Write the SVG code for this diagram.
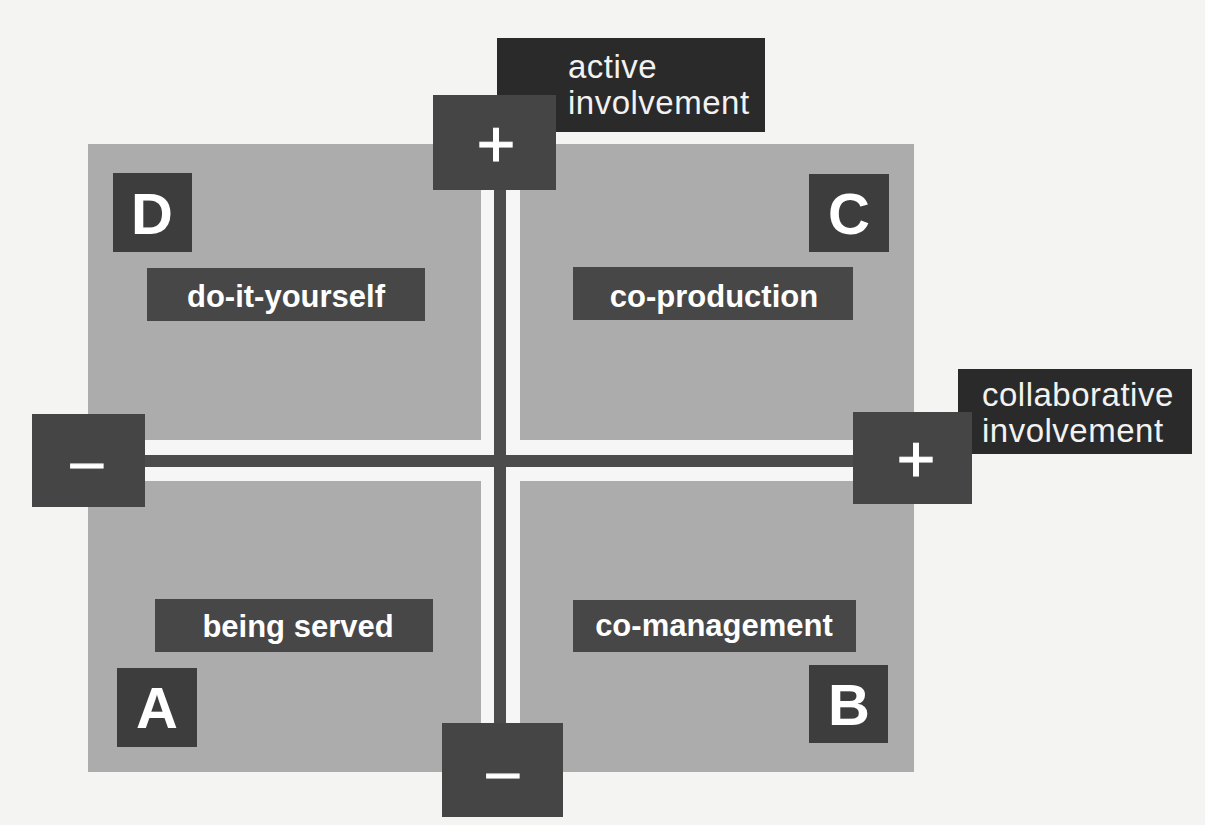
<svg xmlns="http://www.w3.org/2000/svg" width="1205" height="825" viewBox="0 0 1205 825">
<style>
.axisbox{fill:#454545}
.invbox{fill:#2a2a2a}
.letterbox{fill:#3d3d3d}
.labelbox{fill:#474747}
.sign{font-family:"Liberation Sans",Arial,sans-serif;fill:#ffffff;stroke:#ffffff;stroke-width:1.2;text-anchor:middle}
.inv{font-family:"Liberation Sans",Arial,sans-serif;font-size:33px;letter-spacing:0.5px;fill:#f2f2f2}
.letter{font-family:"Liberation Sans",Arial,sans-serif;font-weight:bold;font-size:58px;fill:#ffffff;text-anchor:middle}
.label{font-family:"Liberation Sans",Arial,sans-serif;font-weight:bold;font-size:31px;fill:#ffffff;text-anchor:middle}
</style>
<rect x="0" y="0" width="1205" height="825" fill="#f4f4f2"/>
<g id="field">
<rect x="88" y="144" width="826" height="628" fill="#acacac"/>
</g>
<g id="connectors">
<rect x="481" y="190" width="39" height="533" fill="#f6f6f6"/>
<rect x="145" y="440" width="708" height="41" fill="#f6f6f6"/>
<rect x="494" y="190" width="12" height="533" fill="#4c4c4c"/>
<rect x="145" y="455" width="708" height="12" fill="#4c4c4c"/>
</g>
<g id="label-active">
<rect class="invbox" x="497" y="38" width="268" height="94"/>
<text class="inv" x="568" y="78">active</text>
<text class="inv" x="568" y="114">involvement</text>
</g>
<g id="label-collaborative">
<rect class="invbox" x="958" y="369" width="234" height="85"/>
<text class="inv" x="982" y="406">collaborative</text>
<text class="inv" x="982" y="442">involvement</text>
</g>
<g id="axis-top-plus">
<rect class="axisbox" x="433" y="95" width="123" height="95"/>
<text class="sign" x="496" y="167" font-size="66">+</text>
</g>
<g id="axis-right-plus">
<rect class="axisbox" x="853" y="412" width="119" height="92"/>
<text class="sign" x="916" y="482" font-size="66">+</text>
</g>
<g id="axis-left-minus">
<rect class="axisbox" x="32" y="414" width="113" height="93"/>
<text class="sign" x="87" y="481" font-size="58">–</text>
</g>
<g id="axis-bottom-minus">
<rect class="axisbox" x="442" y="723" width="121" height="94"/>
<text class="sign" x="503" y="791" font-size="58">–</text>
</g>
<g id="quadrant-D">
<rect class="letterbox" x="113" y="173" width="79" height="79"/>
<text class="letter" x="152" y="234">D</text>
<rect class="labelbox" x="147" y="268" width="278" height="53"/>
<text class="label" x="286" y="307">do-it-yourself</text>
</g>
<g id="quadrant-C">
<rect class="letterbox" x="809" y="174" width="80" height="78"/>
<text class="letter" x="849" y="234">C</text>
<rect class="labelbox" x="573" y="267" width="280" height="53"/>
<text class="label" x="714" y="307">co-production</text>
</g>
<g id="quadrant-A">
<rect class="labelbox" x="155" y="599" width="278" height="53"/>
<text class="label" x="298" y="637">being served</text>
<rect class="letterbox" x="117" y="668" width="80" height="79"/>
<text class="letter" x="157" y="728">A</text>
</g>
<g id="quadrant-B">
<rect class="labelbox" x="573" y="600" width="283" height="52"/>
<text class="label" x="714" y="636">co-management</text>
<rect class="letterbox" x="809" y="665" width="79" height="78"/>
<text class="letter" x="849" y="725">B</text>
</g>
</svg>
